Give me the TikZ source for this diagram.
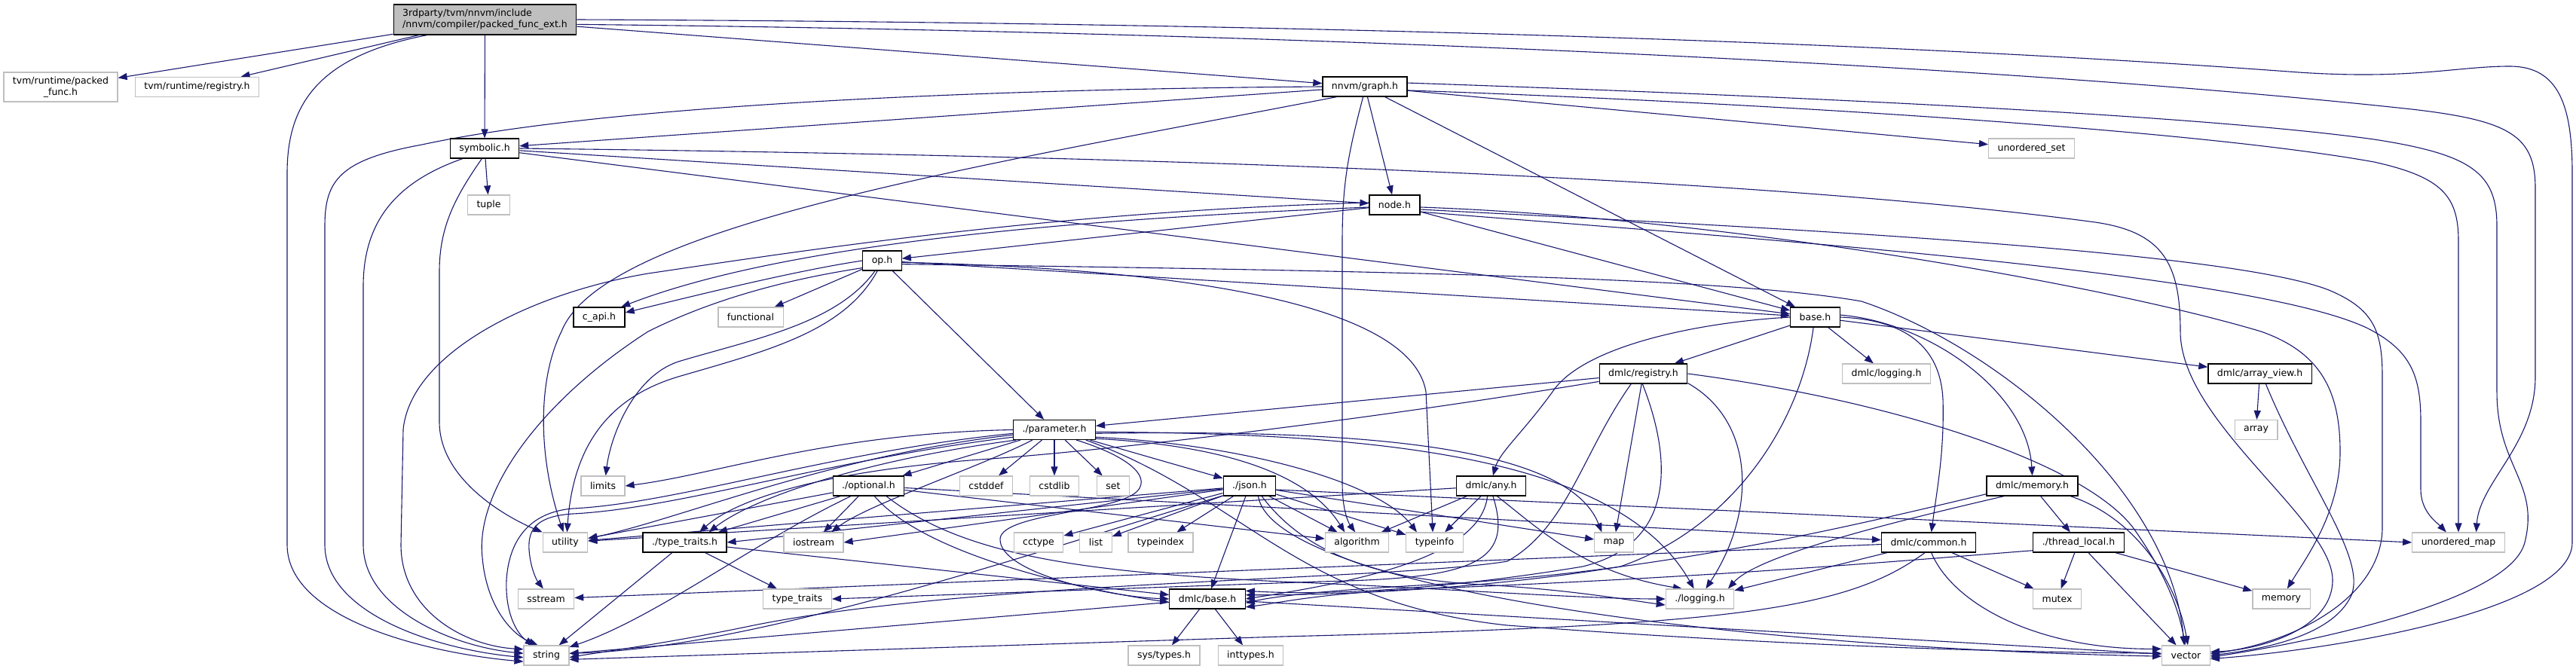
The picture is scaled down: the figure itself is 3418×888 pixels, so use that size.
\documentclass[tikz,border=0pt]{standalone}
\usepackage{fontspec}
\setmainfont{DejaVu Sans}
\usetikzlibrary{arrows.meta,backgrounds}
\definecolor{edgec}{HTML}{191970}
\definecolor{graybd}{HTML}{BFBFBF}
\definecolor{mainfill}{HTML}{BFBFBF}
\begin{document}
\begin{tikzpicture}[x=1pt,y=-1pt,
  box/.style={rectangle, draw, line width=1.2pt, font=\fontsize{12.5}{15}\selectfont, inner xsep=12pt, inner ysep=0pt, minimum height=26pt, fill=white},
  doc/.style={box, draw=black},
  ext/.style={box, draw=graybd},
  dep/.style={draw=edgec, line width=1.1pt, -{Triangle[length=12pt,width=9pt]}}
]
\useasboundingbox (0,0) rectangle (3418,888);
% nodes
\node[doc, fill=mainfill, align=left, minimum height=40pt] (main) at (643.5,26) {3rdparty/tvm/nnvm/include\\/nnvm/compiler/packed\_func\_ext.h};
\node[ext, align=center, minimum height=39pt] (packed) at (80.5,115.5) {tvm/runtime/packed\\\_func.h};
\node[ext] (tvmreg) at (261.5,115.5) {tvm/runtime/registry.h};
\node[doc] (graph) at (1811,115) {nnvm/graph.h};
\node[doc] (symb) at (643,197) {symbolic.h};
\node[ext] (uset) at (2695.5,197) {unordered\_set};
\node[ext] (ntuple) at (648.5,272) {tuple};
\node[doc] (nodeh) at (1850.5,272) {node.h};
\node[doc] (oph) at (1170.5,346) {op.h};
\node[doc] (capi) at (795,421) {c\_api.h};
\node[ext] (nfunctional) at (996,421) {functional};
\node[doc] (baseh) at (2408.5,421) {base.h};
\node[doc] (dreg) at (2180.5,496) {dmlc/registry.h};
\node[ext] (dlog) at (2503,496) {dmlc/logging.h};
\node[doc] (aview) at (2998.5,496) {dmlc/array\_view.h};
\node[doc] (param) at (1399,570.5) {./parameter.h};
\node[ext] (narray) at (2993.5,570.5) {array};
\node[ext] (nlimits) at (800,645) {limits};
\node[doc] (optional) at (1152.5,645) {./optional.h};
\node[ext] (ncstddef) at (1308.5,645) {cstddef};
\node[ext] (ncstdlib) at (1399,645) {cstdlib};
\node[ext] (nset) at (1477,645) {set};
\node[doc] (json) at (1658,645) {./json.h};
\node[doc] (any) at (1978.5,645) {dmlc/any.h};
\node[doc] (dmem) at (2696.5,645) {dmlc/memory.h};
\node[ext] (nutility) at (750,720) {utility};
\node[doc] (ttraitsh) at (908.5,720) {./type\_traits.h};
\node[ext] (niostream) at (1079.5,720) {iostream};
\node[ext] (ncctype) at (1378,720) {cctype};
\node[ext] (nlist) at (1454,720) {list};
\node[ext] (ntypeindex) at (1540,720) {typeindex};
\node[ext] (nalgorithm) at (1800.5,720) {algorithm};
\node[ext] (ntypeinfo) at (1903.5,720) {typeinfo};
\node[ext] (nmap) at (2141.5,720) {map};
\node[doc] (common) at (2559,720) {dmlc/common.h};
\node[doc] (tlocal) at (2758,720) {./thread\_local.h};
\node[ext] (numap) at (3262,720) {unordered\_map};
\node[ext] (nsstream) at (724.5,795) {sstream};
\node[ext] (nttraits) at (1058,795) {type\_traits};
\node[doc] (dbase) at (1602,795) {dmlc/base.h};
\node[ext] (logging) at (2255.5,795) {./logging.h};
\node[ext] (nmutex) at (2729.5,795) {mutex};
\node[ext] (nmemory) at (3027,795) {memory};
\node[ext] (nstring) at (725,870) {string};
\node[ext] (nsystypes) at (1544.5,870) {sys/types.h};
\node[ext] (ninttypes) at (1659.5,870) {inttypes.h};
\node[ext] (nvector) at (2900.5,870) {vector};

\begin{pgfonlayer}{background}
\fill[white] (0,0) rectangle (3418,888);
% main
\draw[dep] (main) -- (packed);
\draw[dep] (main) -- (tvmreg);
\draw[dep] (main) -- (symb);
\draw[dep] (main) -- (graph);
\draw[dep] (main.195) .. controls (420,75) and (381,140) .. (381,230) -- (381,723) .. controls (381,820) and (560,866) .. (nstring.195);
\draw[dep] (main.east) .. controls (1700,30) and (2500,55) .. (3050,96) .. controls (3200,106) and (3260,88) .. (3330,88) .. controls (3395,88) and (3413,140) .. (3413,230) -- (3413,720) .. controls (3413,810) and (3100,862) .. (nvector.-8);
\draw[dep] (main.-3) .. controls (1700,42) and (2650,85) .. (3200,145) .. controls (3330,160) and (3364,180) .. (3364,250) -- (3364,500) .. controls (3364,590) and (3290,640) .. (numap.30);
% graph
\draw[dep] (graph) -- (symb);
\draw[dep] (graph) -- (uset);
\draw[dep] (graph) -- (nodeh);
\draw[dep] (graph) -- (baseh);
\draw[dep] (graph.260) .. controls (1790,200) and (1781,240) .. (1781,320) -- (1781,640) .. controls (1781,680) and (1790,695) .. (nalgorithm.100);
\draw[dep] (graph.west) .. controls (1300,118) and (800,140) .. (560,192) .. controls (450,212) and (431,240) .. (431,300) -- (431,723) .. controls (431,815) and (580,862) .. (nstring.185);
\draw[dep] (graph.200) .. controls (1300,220) and (800,300) .. (745,440) .. controls (715,500) and (712,600) .. (nutility.100);
\draw[dep] (graph.5) .. controls (2300,125) and (2900,150) .. (3150,185) .. controls (3280,205) and (3313,230) .. (3313,300) -- (3313,520) .. controls (3313,620) and (3370,640) .. (3350,720) .. controls (3330,800) and (3050,855) .. (nvector.-4);
\draw[dep] (graph.-5) .. controls (2300,135) and (2900,170) .. (3150,215) .. controls (3240,235) and (3262,260) .. (3262,320) -- (numap.north);
% symbolic
\draw[dep] (symb) -- (ntuple);
\draw[dep] (symb) -- (nodeh);
\draw[dep] (symb) -- (baseh);
\draw[dep] (symb.205) .. controls (530,240) and (482,290) .. (482,380) -- (482,723) .. controls (482,808) and (600,858) .. (nstring.175);
\draw[dep] (symb.255) .. controls (605,260) and (583,300) .. (583,360) -- (583,560) .. controls (583,640) and (680,690) .. (nutility.north west);
\draw[dep] (symb.east) .. controls (1400,205) and (2300,230) .. (2780,295) .. controls (2870,308) and (2893,350) .. (2893,440) .. controls (2893,560) and (3095,690) .. (3095,770) .. controls (3095,835) and (3000,862) .. (nvector.8);
% node.h
\draw[dep] (nodeh) -- (oph);
\draw[dep] (nodeh) -- (baseh);
\draw[dep] (nodeh.185) .. controls (1450,290) and (1050,320) .. (capi.25);
\draw[dep] (nodeh.175) .. controls (1400,280) and (1050,335) .. (860,363) .. controls (700,390) and (545,470) .. (535,570) -- (532,723) .. controls (532,810) and (615,857) .. (nstring.165);
\draw[dep] (nodeh.-5) .. controls (2300,290) and (2800,380) .. (3000,440) .. controls (3080,468) and (3105,520) .. (3105,600) .. controls (3105,680) and (3060,740) .. (nmemory.60);
\draw[dep] (nodeh.-10) .. controls (2300,300) and (2950,330) .. (3090,385) .. controls (3150,410) and (3161,440) .. (3161,500) -- (3161,700) .. controls (3161,790) and (3050,852) .. (nvector.4);
\draw[dep] (nodeh.-15) .. controls (2300,315) and (2980,360) .. (3140,435) .. controls (3200,465) and (3212,500) .. (3212,560) -- (3212,650) .. controls (3212,680) and (3235,695) .. (numap.140);
% op.h
\draw[dep] (oph) -- (param);
\draw[dep] (oph) -- (nfunctional);
\draw[dep] (oph) -- (baseh);
\draw[dep] (oph.west) .. controls (1050,360) and (900,398) .. (capi.10);
\draw[dep] (oph.200) .. controls (1050,370) and (950,395) .. (860,440) .. controls (720,530) and (630,650) .. (640,740) .. controls (645,800) and (675,840) .. (nstring.130);
\draw[dep] (oph.235) .. controls (1110,430) and (1000,450) .. (900,480) .. controls (840,500) and (810,580) .. (nlimits.75);
\draw[dep] (oph.245) .. controls (1120,440) and (1020,465) .. (900,500) .. controls (800,530) and (760,600) .. (nutility.80);
\draw[dep] (oph.-5) .. controls (1500,355) and (1870,390) .. (1892,520) -- (ntypeinfo.100);
\draw[dep] (oph.-10) .. controls (1900,360) and (2300,370) .. (2470,400) .. controls (2650,460) and (2880,650) .. (nvector.100);
% base.h
\draw[dep] (baseh) -- (dreg);
\draw[dep] (baseh) -- (dlog);
\draw[dep] (baseh) -- (aview);
\draw[dep] (baseh.west) .. controls (2250,428) and (2100,460) .. (2060,520) .. controls (2020,575) and (1990,600) .. (any.80);
\draw[dep] (baseh.260) .. controls (2390,560) and (2300,700) .. (2150,752) .. controls (1950,785) and (1750,790) .. (dbase.6);
\draw[dep] (baseh.east) .. controls (2540,425) and (2575,470) .. (2578,530) .. controls (2580,600) and (2570,650) .. (common.75);
\draw[dep] (baseh.5) .. controls (2560,428) and (2690,520) .. (dmem.north);
% dmlc/registry.h
\draw[dep] (dreg) -- (param);
\draw[dep] (dreg) -- (nmap);
\draw[dep] (dreg.190) .. controls (1800,560) and (1450,600) .. (1300,610) .. controls (1100,625) and (980,660) .. (ttraitsh.35);
\draw[dep] (dreg.265) .. controls (2215,600) and (2230,720) .. (2100,752) .. controls (1900,785) and (1750,790) .. (dbase.12);
\draw[dep] (dreg.-12) .. controls (2330,560) and (2330,680) .. (logging.60);
\draw[dep] (dreg.east) .. controls (2500,530) and (2760,610) .. (2830,700) .. controls (2880,770) and (2893,820) .. (nvector.95);
\draw[dep] (dreg.220) .. controls (2100,600) and (2080,700) .. (2000,745) .. controls (1850,770) and (1300,770) .. (1000,830) .. controls (880,855) and (800,865) .. (nstring.-5);
% array_view
\draw[dep] (aview) -- (narray);
\draw[dep] (aview.-60) .. controls (3060,640) and (3140,740) .. (3120,790) .. controls (3095,845) and (3000,862) .. (nvector.0);
% parameter.h
\draw[dep] (param) -- (optional);
\draw[dep] (param) -- (ncstddef);
\draw[dep] (param) -- (ncstdlib);
\draw[dep] (param) -- (nset);
\draw[dep] (param) -- (json);
\draw[dep] (param.205) .. controls (1300,620) and (1150,670) .. (niostream.30);
\draw[dep] (param.195) .. controls (1150,610) and (1000,660) .. (ttraitsh.23);
\draw[dep] (param.187) .. controls (1100,605) and (900,690) .. (nutility.10);
\draw[dep] (param.180) .. controls (1100,575) and (950,630) .. (nlimits.east);
\draw[dep] (param.190) .. controls (1100,610) and (900,675) .. (760,682) .. controls (715,685) and (700,700) .. (702,730) .. controls (704,755) and (712,770) .. (nsstream.105);
\draw[dep] (param.185) .. controls (1100,600) and (900,668) .. (760,675) .. controls (700,680) and (675,720) .. (672,770) .. controls (670,820) and (690,845) .. (nstring.140);
\draw[dep] (param.-5) .. controls (1800,570) and (2080,590) .. (nmap.140);
\draw[dep] (param.-10) .. controls (1650,590) and (1830,640) .. (ntypeinfo.150);
\draw[dep] (param.-12) .. controls (1600,590) and (1730,620) .. (nalgorithm.140);
\draw[dep] (param.-3) .. controls (1850,575) and (2150,610) .. (logging.120);
\draw[dep] (param.-18) .. controls (1650,660) and (1720,800) .. (2000,830) .. controls (2400,860) and (2700,866) .. (nvector.175);
\draw[dep] (param.-25) .. controls (1480,600) and (1525,625) .. (1512,648) .. controls (1495,680) and (1330,680) .. (1327,715) .. controls (1325,760) and (1470,792) .. (dbase.west);
% optional.h
\draw[dep] (optional) -- (niostream);
\draw[dep] (optional.200) -- (ttraitsh.17);
\draw[dep] (optional) -- (nalgorithm);
\draw[dep] (optional) -- (common);
\draw[dep] (optional) -- (nutility);
\draw[dep] (optional.210) .. controls (1000,720) and (870,820) .. (nstring.20);
\draw[dep] (optional.-60) .. controls (1230,740) and (1450,785) .. (dbase.185);
\draw[dep] (optional.-30) .. controls (1280,740) and (1450,760) .. (1700,772) .. controls (1900,780) and (2100,795) .. (logging.west);
% json.h
\draw[dep] (json) -- (ncctype);
\draw[dep] (json) -- (nlist);
\draw[dep] (json) -- (ntypeindex);
\draw[dep] (json) -- (dbase);
\draw[dep] (json) -- (niostream.east);
\draw[dep] (json) -- (ttraitsh.east);
\draw[dep] (json) -- (nutility.5);
\draw[dep] (json) -- (nalgorithm);
\draw[dep] (json) -- (ntypeinfo.165);
\draw[dep] (json) -- (nmap);
\draw[dep] (json.-8) -- (numap.west);
\draw[dep] (json.200) .. controls (1350,740) and (1000,860) .. (nstring.5);
\draw[dep] (json.-40) .. controls (1720,720) and (1800,765) .. (1950,775) .. controls (2080,782) and (2150,795) .. (logging.190);
\draw[dep] (json.-50) .. controls (1690,780) and (2300,860) .. (nvector.182);
% any.h
\draw[dep] (any) -- (nalgorithm);
\draw[dep] (any) -- (ntypeinfo);
\draw[dep] (any) -- (nutility);
\draw[dep] (any.-60) .. controls (2040,700) and (2100,760) .. (logging.150);
\draw[dep] (any.250) .. controls (1965,740) and (1800,772) .. (dbase.east);
\draw[dep] (any.-80) .. controls (2010,750) and (1950,768) .. (1750,772) -- (nttraits.east);
% memory.h
\draw[dep] (dmem) -- (tlocal);
\draw[dep] (dmem.-15) .. controls (2840,690) and (2890,780) .. (nvector.80);
\draw[dep] (dmem.190) .. controls (2450,700) and (2200,760) .. (1900,776) .. controls (1750,784) and (1690,792) .. (dbase.-6);
\draw[dep] (dmem.200) .. controls (2480,700) and (2330,740) .. (logging.20);
% thread_local.h
\draw[dep] (tlocal) -- (nmutex);
\draw[dep] (tlocal) -- (nmemory);
\draw[dep] (tlocal) -- (nvector);
\draw[dep] (tlocal.190) .. controls (2550,742) and (2300,765) .. (1900,781) .. controls (1750,787) and (1700,800) .. (dbase.-12);
% common.h
\draw[dep] (common) -- (nmutex);
\draw[dep] (common) -- (logging);
\draw[dep] (common) -- (nsstream);
\draw[dep] (common.-75) .. controls (2590,800) and (2700,862) .. (nvector.165);
\draw[dep] (common.250) .. controls (2450,810) and (2300,830) .. (1700,845) -- (nstring.-10);
% type_traits.h
\draw[dep] (ttraitsh) -- (nttraits);
\draw[dep] (ttraitsh) -- (nstring);
\draw[dep] (ttraitsh) -- (dbase);
% dmlc/base.h
\draw[dep] (dbase) -- (nsystypes);
\draw[dep] (dbase) -- (ninttypes);
\draw[dep] (dbase) -- (nstring);
\draw[dep] (dbase) -- (nvector);
\end{pgfonlayer}
\end{tikzpicture}
\end{document}
